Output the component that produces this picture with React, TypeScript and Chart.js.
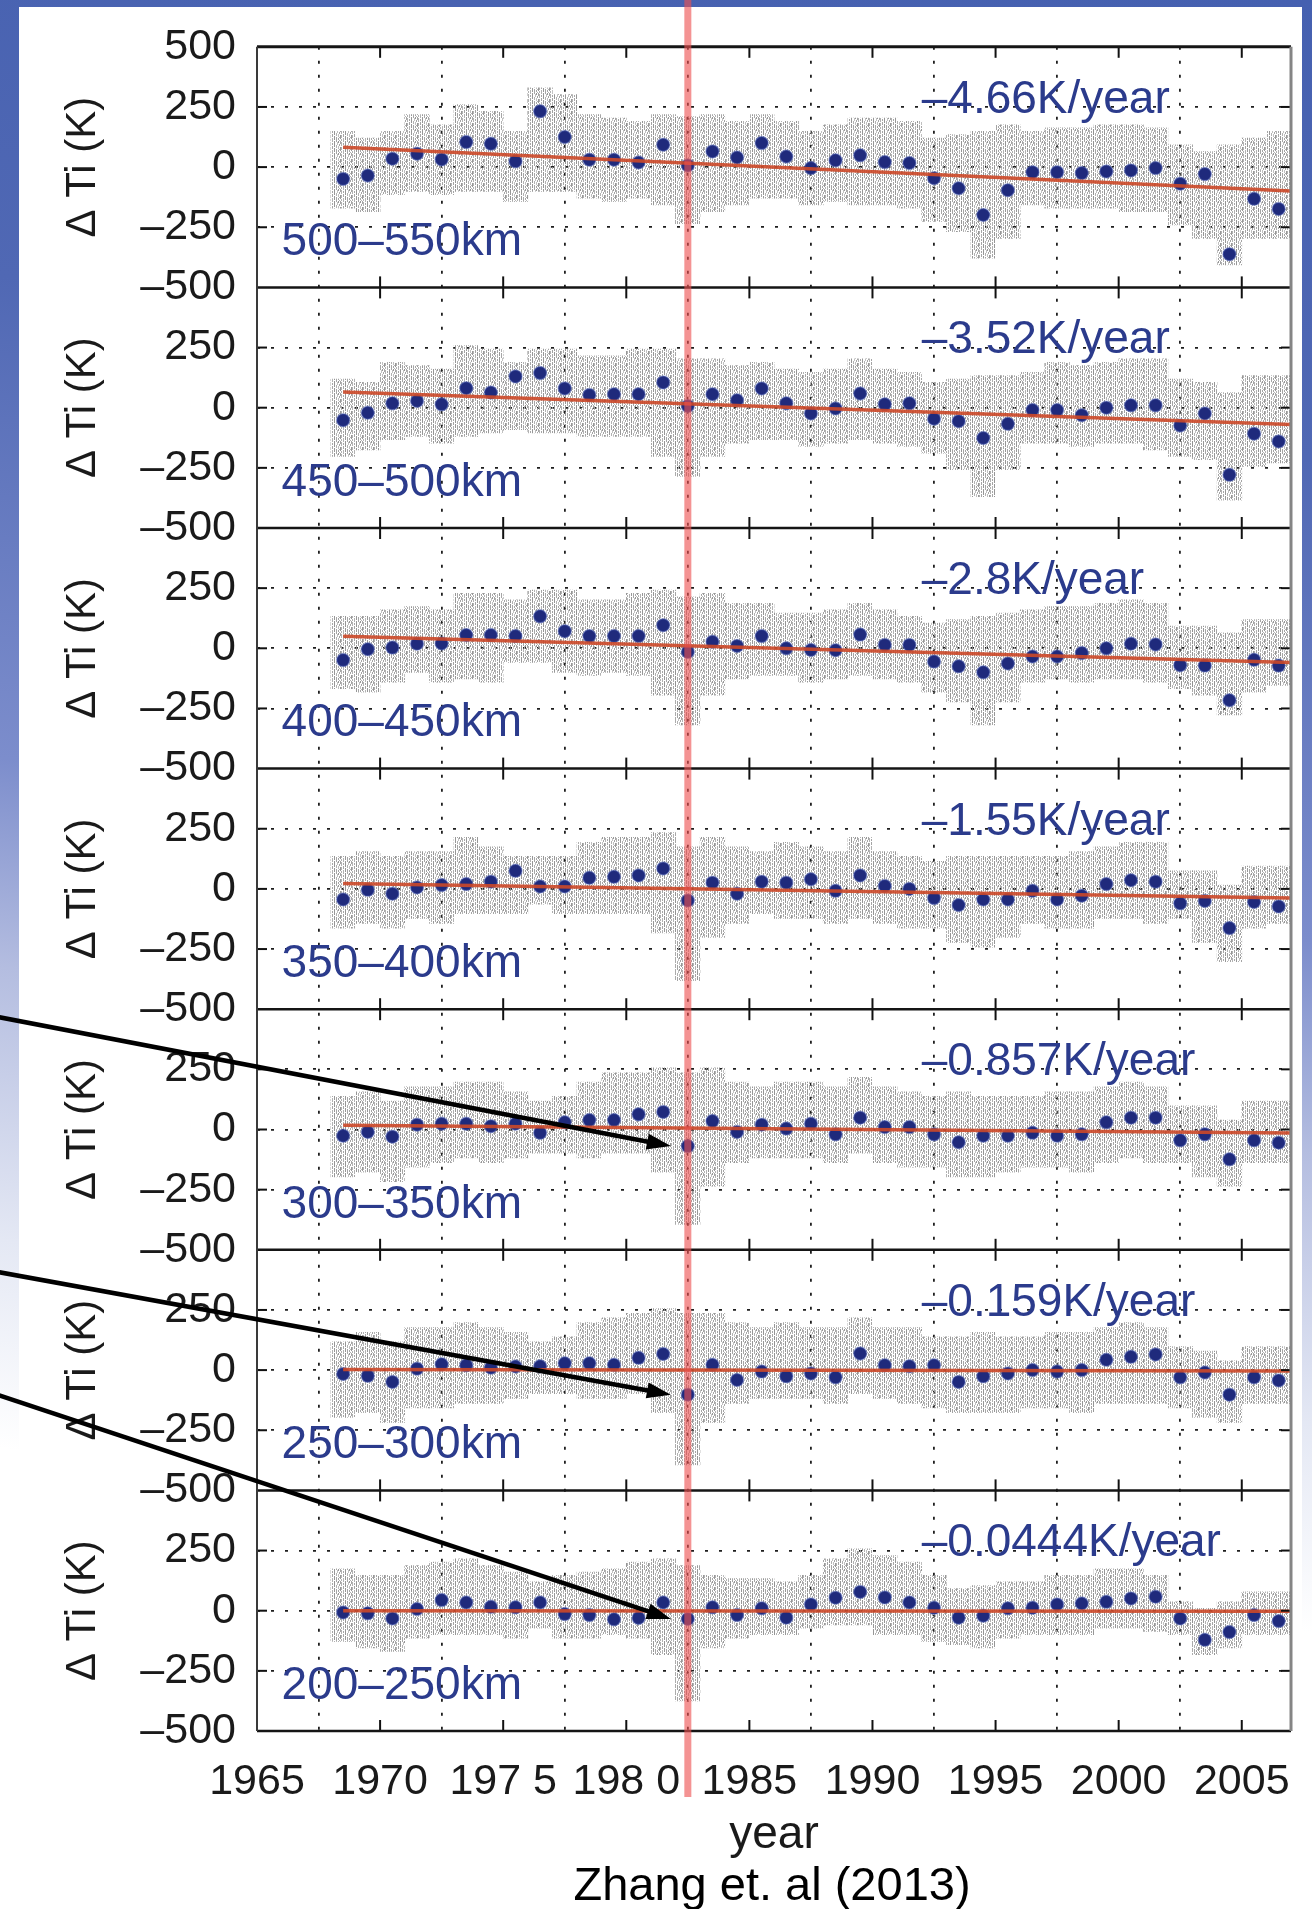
import React, { useEffect, useRef } from 'react';
import { Chart, registerables } from 'chart.js';

Chart.register(...registerables);

const FONT = "'Liberation Sans', Arial, Helvetica, sans-serif";

// yearly mid-points of the blue annual means
const years = [1968.5, 1969.5, 1970.5, 1971.5, 1972.5, 1973.5, 1974.5, 1975.5, 1976.5, 1977.5, 1978.5, 1979.5, 1980.5, 1981.5, 1982.5, 1983.5, 1984.5, 1985.5, 1986.5, 1987.5, 1988.5, 1989.5, 1990.5, 1991.5, 1992.5, 1993.5, 1994.5, 1995.5, 1996.5, 1997.5, 1998.5, 1999.5, 2000.5, 2001.5, 2002.5, 2003.5, 2004.5, 2005.5, 2006.5];

const panelNames = ['500–550km', '450–500km', '400–450km', '350–400km', '300–350km', '250–300km', '200–250km'];
const rateLabels = ['–4.66K/year', '–3.52K/year', '–2.8K/year', '–1.55K/year', '–0.857K/year', '–0.159K/year', '–0.0444K/year'];

// blue annual means per altitude band (K)
const dots500 = [-49, -35, 35, 56, 32, 104, 97, 24, 232, 125, 31, 31, 19, 93, 7, 65, 40, 100, 44, -4, 28, 49, 21, 17, -46, -88, -199, -96, -21, -21, -25, -18, -14, -4, -69, -29, -362, -132, -174];
const dots450 = [-52, -21, 18, 28, 14, 81, 63, 130, 144, 80, 53, 56, 56, 105, 7, 56, 31, 80, 18, -24, -3, 59, 14, 18, -46, -56, -126, -67, -10, -10, -31, 0, 10, 10, -74, -24, -279, -108, -140];
const dots400 = [-49, -4, 3, 19, 20, 55, 55, 51, 133, 71, 51, 51, 51, 96, -15, 27, 10, 51, 0, -7, -8, 57, 14, 14, -55, -75, -100, -63, -34, -34, -20, 0, 19, 16, -70, -72, -216, -48, -72];
const dots350 = [-44, -4, -20, 6, 16, 20, 30, 75, 10, 10, 46, 50, 56, 85, -48, 26, -20, 30, 26, 40, -8, 56, 12, 0, -38, -67, -44, -44, -8, -44, -28, 20, 36, 30, -60, -50, -163, -54, -73];
const dots300 = [-26, -10, -30, 20, 24, 24, 14, 24, -14, 30, 39, 39, 63, 73, -69, 35, -10, 20, 4, 24, -20, 49, 10, 10, -20, -53, -26, -26, -14, -26, -20, 30, 49, 49, -45, -20, -124, -45, -55];
const dots250 = [-16, -24, -49, 6, 24, 20, 10, 15, 16, 28, 28, 22, 51, 67, -102, 22, -41, -6, -26, -14, -30, 69, 20, 16, 20, -49, -26, -14, 0, -6, 0, 43, 55, 65, -30, -10, -102, -30, -43];
const dots200 = [-7, -11, -32, 7, 44, 34, 16, 14, 34, -14, -18, -36, -30, 34, -34, 14, -18, 10, -29, 26, 54, 78, 55, 34, 12, -29, -21, 10, 12, 26, 30, 37, 51, 58, -32, -121, -89, -18, -43];

// gray daily-data cloud: approximate upper / lower extent per year (K)
const hi500 = [149, 121, 149, 218, 176, 260, 232, 149, 329, 301, 218, 204, 190, 218, 210, 218, 190, 218, 190, 149, 176, 204, 204, 190, 121, 135, 149, 176, 149, 163, 163, 176, 176, 163, 93, 65, 93, 121, 149];
const lo500 = [-171, -185, -115, -101, -115, -101, -101, -143, -101, -101, -129, -143, -129, -157, -235, -185, -157, -129, -129, -157, -143, -157, -157, -171, -226, -268, -379, -296, -157, -171, -171, -171, -185, -185, -240, -296, -407, -296, -296];
const hi450 = [119, 105, 189, 175, 161, 258, 244, 189, 244, 244, 216, 216, 244, 244, 203, 203, 175, 189, 161, 147, 161, 203, 161, 147, 105, 119, 133, 133, 147, 189, 175, 189, 203, 203, 119, 105, 63, 133, 133];
const lo450 = [-203, -175, -133, -119, -147, -119, -105, -91, -105, -105, -119, -119, -119, -203, -286, -203, -147, -133, -133, -161, -147, -133, -147, -161, -189, -258, -370, -258, -147, -147, -161, -147, -147, -175, -203, -216, -384, -244, -230];
const hi400 = [133, 133, 160, 173, 160, 228, 228, 201, 242, 242, 201, 201, 228, 242, 214, 228, 187, 187, 146, 146, 160, 187, 160, 133, 105, 119, 133, 146, 160, 173, 173, 187, 201, 187, 92, 92, 64, 119, 119];
const lo400 = [-168, -182, -141, -100, -141, -127, -141, -59, -59, -100, -113, -100, -113, -195, -318, -195, -127, -113, -113, -141, -127, -113, -127, -141, -182, -223, -318, -223, -141, -127, -141, -127, -127, -141, -168, -195, -277, -182, -154];
const hi350 = [135, 155, 135, 155, 155, 214, 175, 135, 135, 135, 194, 214, 214, 234, 175, 214, 175, 155, 194, 175, 155, 214, 155, 135, 115, 135, 135, 135, 135, 135, 155, 175, 194, 194, 75, 75, 16, 95, 95];
const lo350 = [-163, -143, -163, -123, -143, -103, -103, -103, -63, -103, -103, -103, -103, -183, -381, -202, -143, -103, -123, -123, -143, -123, -143, -163, -163, -222, -242, -202, -143, -163, -163, -123, -123, -143, -123, -222, -302, -163, -143];
const hi300 = [138, 157, 118, 177, 177, 197, 197, 157, 118, 138, 197, 236, 236, 256, 236, 256, 197, 177, 197, 197, 177, 217, 177, 157, 138, 157, 138, 138, 138, 157, 157, 177, 197, 177, 98, 98, 39, 118, 118];
const lo300 = [-197, -177, -217, -157, -138, -118, -138, -118, -98, -98, -118, -98, -98, -177, -394, -236, -138, -118, -118, -118, -138, -98, -138, -157, -157, -197, -197, -177, -157, -157, -177, -138, -118, -138, -138, -197, -236, -138, -138];
const hi250 = [118, 157, 118, 177, 177, 197, 177, 157, 118, 138, 197, 217, 236, 256, 236, 236, 197, 177, 197, 177, 177, 217, 177, 177, 138, 138, 157, 138, 138, 157, 157, 177, 197, 177, 98, 79, 39, 98, 98];
const lo250 = [-197, -177, -217, -157, -157, -138, -138, -118, -98, -98, -118, -118, -98, -177, -394, -217, -138, -118, -118, -118, -138, -98, -118, -138, -157, -177, -177, -177, -157, -157, -177, -138, -138, -138, -157, -197, -217, -138, -138];
const hi200 = [174, 147, 147, 188, 202, 216, 188, 161, 120, 147, 161, 174, 202, 216, 188, 147, 133, 133, 120, 147, 216, 257, 229, 202, 147, 92, 104, 120, 120, 147, 147, 174, 174, 147, 37, 10, 37, 78, 78];
const lo200 = [-128, -155, -169, -114, -100, -100, -100, -114, -73, -114, -114, -100, -114, -183, -375, -155, -114, -100, -100, -73, -59, -59, -100, -100, -128, -141, -155, -114, -100, -100, -100, -73, -73, -86, -100, -183, -155, -100, -100];

// red linear trends: value at start and end of the fit
const trendYears = [1968.5, 2007];
const trendStart = [82, 65, 50, 22, 18, 2, 0];
const trendEnd = [-99, -70, -59, -38, -15, -4, -2];

const markerYear = 1982.5;
const arrowPanels = [4, 5, 6];

const xTickLabels = ['1965', '1970', '197 5', '198 0', '1985', '1990', '1995', '2000', '2005'];
const yTickText: Record<string, string> = { '500': '500', '250': '250', '0': '0', '-250': '–250', '-500': '–500' };

const panelDots = [dots500, dots450, dots400, dots350, dots300, dots250, dots200];
const panelHi = [hi500, hi450, hi400, hi350, hi300, hi250, hi200];
const panelLo = [lo500, lo450, lo400, lo350, lo300, lo250, lo200];

// streaky speckle texture tile for the gray cloud (digit = shade, '.' = empty)
const speckleTile = [
  '3.2.1..4.2.',
  '3...1.3..2.',
  '..2.1.3.4..',
  '3.2...3.4.1',
  '3.2.1...4.1',
  '3...1.2..31',
  '..3.1.2.2.1',
  '3.3.1.2.2..',
  '3.3...2..3.',
  '..3.1.2.1.2',
  '3...1..41.2',
  '3.2.1..4..2',
];
const shadeLevels = [0, 140, 155, 170, 185];

function makePattern(): CanvasPattern | string {
  const c = document.createElement('canvas');
  c.width = speckleTile[0].length;
  c.height = speckleTile.length;
  const g = c.getContext('2d');
  if (!g) return 'rgba(190,190,190,0.6)';
  speckleTile.forEach((row, r) => {
    for (let col = 0; col < row.length; col++) {
      const ch = row[col];
      if (ch !== '.') {
        const v = shadeLevels[Number(ch)];
        g.fillStyle = `rgba(${v},${v},${v},0.9)`;
        g.fillRect(col, r, 1, 1);
      }
    }
  });
  return g.createPattern(c, 'repeat') || 'rgba(190,190,190,0.6)';
}

const decorPlugin = {
  id: 'decor',
  afterDatasetsDraw(chart: any) {
    const { ctx, chartArea: a } = chart;
    const xs = chart.scales.x;
    const seg = (x1: number, y1: number, x2: number, y2: number) => {
      ctx.beginPath();
      ctx.moveTo(x1, y1);
      ctx.lineTo(x2, y2);
      ctx.stroke();
    };
    ctx.save();
    ctx.lineCap = 'butt';
    for (let k = 0; k < 7; k++) {
      const ys = chart.scales['y' + k];
      ctx.strokeStyle = '#111';
      ctx.lineWidth = 2;
      xs.ticks.forEach((t: any) => {
        if (t.value <= xs.min) return;
        const px = xs.getPixelForValue(t.value);
        seg(px, ys.top, px, ys.top + 11);
        seg(px, ys.bottom, px, ys.bottom - 11);
      });
      ys.ticks.forEach((t: any) => {
        if (Math.abs(t.value) >= 500) return;
        const py = ys.getPixelForValue(t.value);
        seg(a.left, py, a.left + 10, py);
        seg(a.right, py, a.right - 10, py);
      });
      ctx.strokeStyle = '#151515';
      ctx.lineWidth = k === 0 ? 3 : 2.5;
      seg(a.left, ys.top, a.right, ys.top);
    }
    ctx.strokeStyle = '#151515';
    ctx.lineWidth = 2.5;
    seg(a.left, a.bottom, a.right, a.bottom);
    ctx.strokeStyle = '#3a3a3a';
    ctx.lineWidth = 2;
    seg(a.left, a.top, a.left, a.bottom);
    ctx.strokeStyle = '#858585';
    ctx.lineWidth = 3;
    seg(a.right, a.top, a.right, a.bottom);

    // panel texts
    ctx.fillStyle = '#2b3b8c';
    ctx.textBaseline = 'alphabetic';
    ctx.textAlign = 'left';
    ctx.font = `46px ${FONT}`;
    for (let k = 0; k < 7; k++) {
      const ys = chart.scales['y' + k];
      ctx.fillText(panelNames[k], xs.getPixelForValue(1966), ys.getPixelForValue(-366));
      ctx.fillText(rateLabels[k], xs.getPixelForValue(1992), ys.getPixelForValue(226));
    }

    // arrows
    const mx = xs.getPixelForValue(markerYear);
    const starts = [[-2, 1017], [-2, 1272], [-2, 1395]];
    const idx = years.indexOf(markerYear);
    ctx.fillStyle = '#000';
    ctx.strokeStyle = '#000';
    arrowPanels.forEach((k, j) => {
      const ys = chart.scales['y' + k];
      const tipX = mx - 17;
      const tipY = ys.getPixelForValue(panelDots[k][idx]);
      const [sx, sy] = starts[j];
      const ang = Math.atan2(tipY - sy, tipX - sx);
      const L = 24;
      const W = 8;
      const bx = tipX - L * Math.cos(ang);
      const by = tipY - L * Math.sin(ang);
      ctx.lineWidth = 4.5;
      seg(sx, sy, bx + 2 * Math.cos(ang), by + 2 * Math.sin(ang));
      ctx.beginPath();
      ctx.moveTo(tipX, tipY);
      ctx.lineTo(bx + W * Math.sin(ang), by - W * Math.cos(ang));
      ctx.lineTo(bx - W * Math.sin(ang), by + W * Math.cos(ang));
      ctx.closePath();
      ctx.fill();
    });

    // red marker line
    ctx.strokeStyle = 'rgba(238,80,80,0.62)';
    ctx.lineWidth = 7;
    seg(mx, 0, mx, 1797);

    // caption
    ctx.fillStyle = '#000';
    ctx.textAlign = 'center';
    ctx.font = `47px ${FONT}`;
    ctx.fillText('Zhang et. al (2013)', 772, 1900);
    ctx.restore();
  },
};

export default function App() {
  const ref = useRef<HTMLCanvasElement | null>(null);

  useEffect(() => {
    const canvas = ref.current;
    if (!canvas) return;
    const pattern = makePattern();
    const datasets: any[] = [];
    for (let k = 0; k < 7; k++) {
      datasets.push({
        type: 'line',
        data: trendYears.map((x, i) => ({ x, y: i === 0 ? trendStart[k] : trendEnd[k] })),
        yAxisID: 'y' + k,
        xAxisID: 'x',
        borderColor: 'rgba(204,72,40,0.9)',
        borderWidth: 3.5,
        pointRadius: 0,
        order: 1,
      });
      datasets.push({
        type: 'scatter',
        data: years.map((x, i) => ({ x, y: panelDots[k][i] })),
        yAxisID: 'y' + k,
        xAxisID: 'x',
        pointRadius: 6.5,
        pointBackgroundColor: '#1f2a7c',
        pointBorderColor: 'rgba(90,110,190,0.45)',
        pointBorderWidth: 1.5,
        showLine: false,
        order: 2,
      });
      datasets.push({
        type: 'bar',
        data: years.map((x, i) => ({ x, y: [panelLo[k][i], panelHi[k][i]] })),
        yAxisID: 'y' + k,
        xAxisID: 'x',
        backgroundColor: pattern,
        borderWidth: 0,
        barPercentage: 1,
        categoryPercentage: 1,
        grouped: false,
        order: 3,
      });
    }

    const scales: any = {
      x: {
        type: 'linear',
        position: 'bottom',
        min: 1965,
        max: 2007,
        offset: false,
        ticks: {
          stepSize: 5,
          includeBounds: false,
          autoSkip: false,
          maxRotation: 0,
          minRotation: 0,
          padding: 20,
          color: '#1a1a1a',
          font: { family: FONT, size: 43 },
          callback: (v: number) => xTickLabels[Math.round((v - 1965) / 5)] ?? '',
        },
        grid: {
          drawTicks: true,
          tickLength: 5,
          tickColor: 'rgba(0,0,0,0)',
          color: (c: any) => (c.tick && c.tick.value <= 1965 ? 'rgba(0,0,0,0)' : '#1e1e1e'),
          lineWidth: 1.8,
        },
        border: { display: false, dash: [3, 11] },
        title: {
          display: true,
          text: 'year',
          color: '#1a1a1a',
          font: { family: FONT, size: 46 },
          padding: { top: 0, bottom: 46 },
        },
        afterFit: (s: any) => {
          s.height = 178;
        },
      },
    };
    for (let k = 0; k < 7; k++) {
      scales['y' + k] = {
        type: 'linear',
        position: 'left',
        stack: 'panels',
        stackWeight: 1,
        weight: 7 - k,
        min: -500,
        max: 500,
        offset: false,
        ticks: {
          stepSize: 250,
          autoSkip: false,
          padding: 21,
          color: '#1a1a1a',
          font: { family: FONT, size: 43 },
          callback: (v: number) => (k > 0 && v === 500 ? '' : yTickText[String(v)] ?? ''),
        },
        grid: {
          drawTicks: false,
          color: (c: any) => (c.tick && Math.abs(c.tick.value) >= 500 ? 'rgba(0,0,0,0)' : '#1e1e1e'),
          lineWidth: 1.8,
        },
        border: { display: false, dash: [3, 11] },
        title: {
          display: true,
          text: 'Δ Ti (K)',
          color: '#1a1a1a',
          font: { family: FONT, size: 42 },
          padding: { top: 58, bottom: 0 },
        },
        afterFit: (s: any) => {
          s.width = 257;
        },
      };
    }

    const chart = new Chart(canvas, {
      type: 'scatter',
      data: { datasets },
      options: {
        animation: false,
        responsive: false,
        maintainAspectRatio: false,
        devicePixelRatio: 1,
        events: [],
        layout: { padding: { left: 0, right: 21, top: 42, bottom: 0 } },
        plugins: { legend: { display: false }, tooltip: { enabled: false }, title: { display: false } },
        scales,
      } as any,
      plugins: [decorPlugin as any],
    });
    return () => chart.destroy();
  }, []);

  return (
    <div
      style={{
        position: 'absolute',
        left: 0,
        top: 0,
        width: 1312,
        height: 1909,
        overflow: 'hidden',
        background: 'linear-gradient(188deg, #4560b0 0%, #5068b4 22%, #7c8dcc 45%, #b4bde0 55%, #e4e8f4 68%, #ffffff 78%)',
      }}
    >
      <div style={{ position: 'absolute', left: 19, top: 7, width: 1283, height: 1902, background: '#ffffff' }} />
      <canvas ref={ref} width={1312} height={1909} style={{ position: 'absolute', left: 0, top: 0, width: 1312, height: 1909 }} />
    </div>
  );
}
